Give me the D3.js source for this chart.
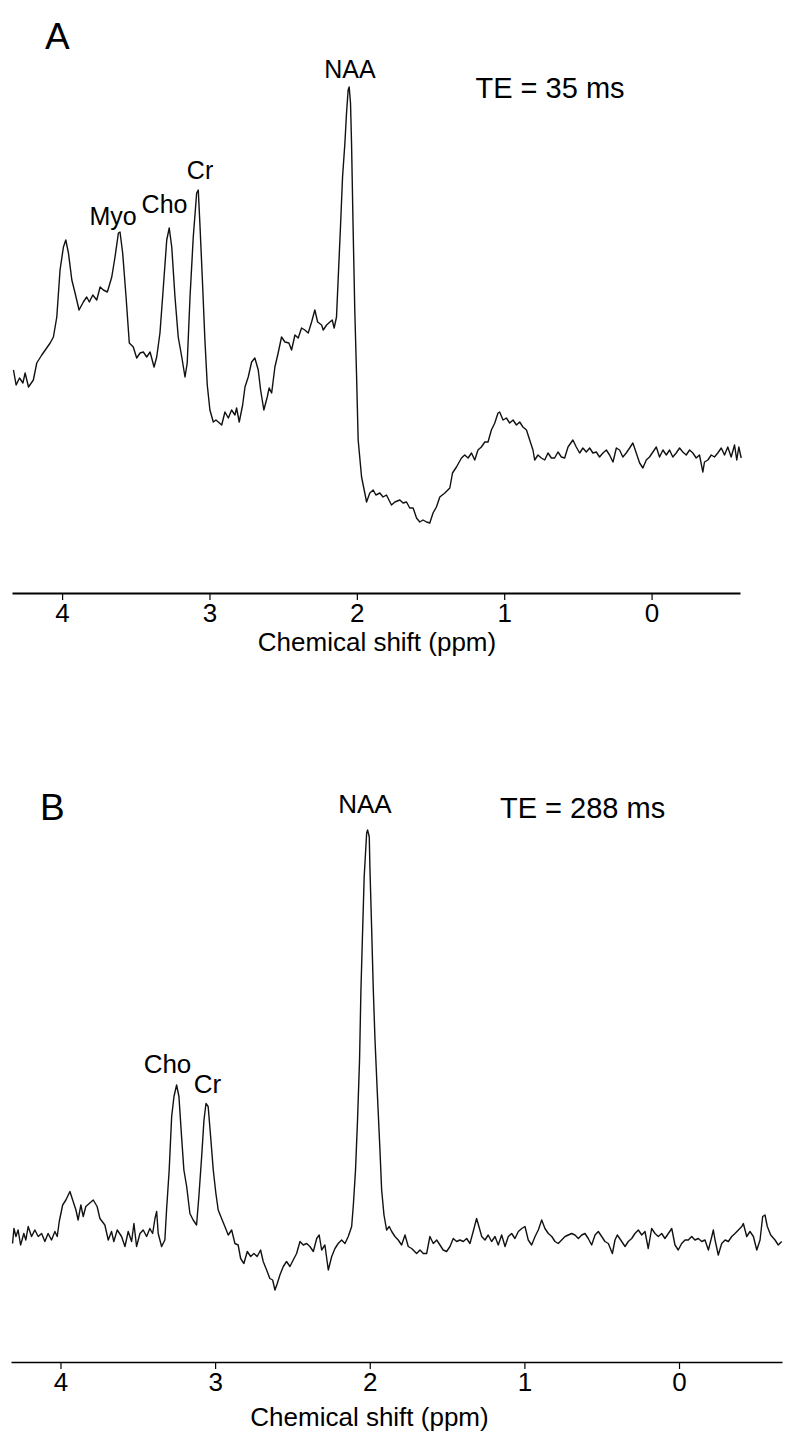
<!DOCTYPE html>
<html>
<head>
<meta charset="utf-8">
<script src="https://cdn.jsdelivr.net/npm/d3@7"></script>
<style>
  body { margin: 0; background: #fff; }
  text { font-family: "Liberation Sans", Arial, sans-serif; fill: #000; }
</style>
</head>
<body>
<script>
// spectrum A, TE = 35 ms : chemical shift (ppm) and signal (a.u.)
const ppmA = [4.330,4.312,4.289,4.266,4.251,4.228,4.195,4.172,4.138,4.081,4.059,4.036,4.014,3.991,3.975,3.957,3.934,3.912,3.885,3.856,
  3.833,3.815,3.792,3.765,3.742,3.720,3.693,3.663,3.641,3.618,3.607,3.589,3.566,3.544,3.517,3.494,3.471,3.449,3.426,3.403,
  3.376,3.358,3.336,3.313,3.290,3.273,3.256,3.234,3.212,3.188,3.166,3.151,3.132,3.110,3.087,3.076,3.064,3.046,3.031,3.015,
  2.997,2.974,2.956,2.917,2.895,2.872,2.850,2.827,2.816,2.798,2.775,2.759,2.737,2.714,2.692,2.669,2.653,2.631,2.608,2.595,
  2.578,2.556,2.534,2.511,2.488,2.461,2.443,2.420,2.398,2.375,2.353,2.330,2.307,2.285,2.266,2.239,2.228,2.205,2.183,2.167,
  2.154,2.138,2.127,2.111,2.097,2.081,2.070,2.059,2.052,2.043,2.036,2.025,2.014,2.002,1.991,1.968,1.946,1.934,1.912,1.889,
  1.871,1.844,1.822,1.799,1.765,1.742,1.708,1.686,1.663,1.641,1.618,1.595,1.573,1.551,1.527,1.505,1.483,1.460,1.437,1.403,
  1.369,1.351,1.324,1.290,1.268,1.245,1.222,1.200,1.178,1.155,1.132,1.110,1.087,1.064,1.042,1.031,1.008,0.985,0.963,0.940,
  0.917,0.895,0.873,0.849,0.827,0.805,0.793,0.771,0.748,0.725,0.703,0.680,0.658,0.635,0.612,0.590,0.567,0.534,0.511,0.488,
  0.466,0.443,0.420,0.398,0.375,0.353,0.330,0.307,0.285,0.262,0.239,0.217,0.195,0.172,0.149,0.127,0.104,0.081,0.059,0.036,
  0.014,-0.009,-0.032,-0.054,-0.077,-0.100,-0.122,-0.144,-0.167,-0.190,-0.212,-0.235,-0.258,-0.280,-0.303,-0.325,-0.348,-0.359,-0.382,-0.405,
  -0.427,-0.449,-0.473,-0.495,-0.517,-0.540,-0.563,-0.578,-0.592,-0.608];
const intA = [44.6,41.6,43.0,42.0,44.0,41.2,42.6,46.0,47.6,50.0,51.2,55.2,64.6,69.2,70.6,68.0,62.6,60.0,56.6,58.2,
  59.2,58.2,59.6,58.6,61.2,60.6,60.2,63.2,67.2,72.0,72.2,68.0,59.2,50.0,49.2,47.0,48.0,48.2,47.2,48.2,
  45.2,47.2,52.0,61.2,70.6,73.0,69.2,59.2,51.2,47.2,43.2,46.0,59.2,71.2,80.0,80.6,73.2,61.2,50.6,41.6,
  36.6,34.2,34.6,33.6,36.2,35.0,36.6,35.6,37.0,34.2,37.6,41.2,43.2,46.2,47.0,44.6,40.6,36.6,39.2,41.0,
  40.0,45.2,48.0,51.2,50.2,50.0,48.6,51.6,51.0,53.0,52.6,52.0,54.2,56.6,54.2,53.6,52.6,53.6,54.2,54.6,
  53.0,55.2,62.6,73.2,83.2,90.0,96.0,100.6,101.2,98.0,90.0,72.6,56.6,43.6,30.6,23.2,20.0,18.2,20.0,20.6,
  19.6,20.0,19.2,19.6,17.6,18.2,18.6,18.0,18.2,17.0,17.0,15.0,14.2,14.6,14.2,14.0,16.0,17.2,19.2,20.0,
  21.0,24.0,25.2,27.0,27.6,27.0,28.0,26.6,28.6,29.2,30.2,30.2,32.6,34.0,36.0,36.2,34.6,35.0,34.0,34.6,
  33.6,34.2,33.2,32.6,30.6,28.6,26.6,27.6,27.0,26.6,28.0,27.0,27.0,28.2,27.2,27.0,29.2,30.6,29.2,28.0,
  29.0,28.2,29.0,28.0,28.2,27.2,28.0,28.6,27.6,26.2,29.0,28.6,27.2,28.0,29.0,30.0,28.0,26.0,25.0,26.6,
  27.2,28.2,29.2,27.2,28.6,27.6,28.6,27.2,28.0,29.0,28.2,27.6,28.6,28.0,27.0,27.6,24.2,26.2,26.6,27.6,
  27.2,28.0,29.0,27.6,29.2,27.2,29.6,26.6,29.2,27.0];

// spectrum B, TE = 288 ms
const ppmB = [4.310,4.301,4.288,4.274,4.258,4.237,4.224,4.209,4.187,4.166,4.144,4.122,4.101,4.080,4.058,4.036,4.021,4.008,3.986,3.965,
  3.939,3.918,3.900,3.886,3.868,3.853,3.836,3.814,3.788,3.763,3.745,3.713,3.691,3.670,3.655,3.633,3.605,3.583,3.562,3.540,
  3.525,3.508,3.486,3.465,3.443,3.422,3.404,3.389,3.378,3.368,3.346,3.325,3.314,3.297,3.281,3.266,3.249,3.234,3.217,3.202,
  3.184,3.163,3.142,3.120,3.105,3.087,3.072,3.059,3.045,3.029,3.012,2.995,2.980,2.958,2.937,2.915,2.893,2.872,2.851,2.835,
  2.814,2.792,2.770,2.749,2.728,2.706,2.689,2.667,2.646,2.628,2.613,2.598,2.581,2.559,2.538,2.516,2.495,2.473,2.451,2.430,
  2.408,2.387,2.365,2.343,2.327,2.311,2.290,2.268,2.246,2.225,2.204,2.182,2.160,2.139,2.117,2.106,2.092,2.079,2.066,2.057,
  2.046,2.036,2.020,2.014,2.003,1.999,1.988,1.977,1.966,1.951,1.934,1.923,1.908,1.891,1.874,1.858,1.837,1.816,1.794,1.772,
  1.751,1.729,1.697,1.675,1.654,1.632,1.611,1.589,1.567,1.546,1.525,1.503,1.481,1.460,1.438,1.417,1.395,1.373,1.352,1.331,
  1.309,1.294,1.276,1.255,1.234,1.212,1.190,1.169,1.147,1.125,1.104,1.082,1.061,1.039,1.017,0.996,0.975,0.953,0.931,0.910,
  0.888,0.867,0.845,0.823,0.802,0.781,0.759,0.737,0.716,0.694,0.673,0.651,0.629,0.608,0.587,0.565,0.543,0.522,0.500,0.479,
  0.457,0.431,0.414,0.399,0.377,0.349,0.328,0.306,0.285,0.263,0.241,0.220,0.199,0.177,0.155,0.134,0.112,0.091,0.069,0.047,
  0.026,0.005,-0.017,-0.039,-0.060,-0.082,-0.103,-0.125,-0.147,-0.168,-0.190,-0.212,-0.222,-0.233,-0.254,-0.276,-0.298,-0.319,-0.341,-0.362,
  -0.384,-0.406,-0.416,-0.438,-0.459,-0.481,-0.503,-0.524,-0.541,-0.556,-0.571,-0.593,-0.621,-0.642,-0.664];
const intB = [23.7,26.7,25.1,26.4,23.4,25.7,24.4,27.1,25.1,26.4,25.1,25.7,24.1,25.7,24.4,26.1,25.1,28.1,31.4,32.4,
  34.1,32.1,30.4,28.4,31.4,29.1,31.1,31.7,32.4,31.1,28.7,27.4,24.4,26.1,24.1,26.4,25.1,23.1,26.1,24.1,
  27.7,23.1,25.7,26.4,25.1,26.7,25.7,28.7,30.1,25.7,23.1,24.4,30.4,38.4,49.1,53.1,55.4,53.1,45.1,38.4,
  35.1,29.7,28.4,27.4,33.1,41.1,48.4,51.7,51.1,45.1,38.4,33.7,30.4,28.7,27.1,25.4,26.4,23.7,23.4,20.7,
  19.7,22.1,21.1,21.7,21.1,22.4,20.1,18.4,16.7,16.4,14.4,15.7,17.4,19.1,20.1,19.1,20.4,21.7,24.1,23.4,
  23.7,23.1,22.1,24.7,25.4,22.4,23.4,18.4,21.1,22.7,23.7,24.4,23.7,25.1,27.1,31.4,38.4,48.4,60.4,74.4,
  86.4,97.0,105.8,106.4,105.0,99.0,87.0,74.4,64.4,53.8,42.4,34.4,29.4,26.4,27.1,26.1,25.1,24.4,23.4,25.4,
  23.1,22.7,21.7,22.4,21.7,21.7,25.1,23.7,24.4,23.4,22.4,22.1,23.1,24.7,24.1,24.4,24.1,24.7,23.7,26.1,
  28.7,27.1,25.1,24.4,25.4,24.1,25.1,23.4,25.4,23.1,25.1,25.7,24.7,26.1,26.7,27.1,24.4,23.4,25.1,26.4,
  28.4,26.7,25.7,25.1,24.1,23.7,24.4,25.1,25.4,25.7,25.4,24.7,25.4,25.7,24.7,23.4,25.4,26.1,25.1,24.1,
  23.7,21.7,24.4,25.4,24.4,23.1,24.1,24.7,25.7,26.4,25.4,26.1,22.7,26.7,25.7,25.1,25.7,24.7,25.7,26.7,
  23.4,22.4,23.7,24.4,24.4,25.1,24.4,24.7,24.1,24.4,22.4,25.1,26.4,24.4,21.4,23.7,24.4,24.1,25.1,25.7,
  26.4,27.1,27.7,25.1,26.1,25.1,22.4,24.4,29.1,29.4,27.1,25.4,24.4,23.4,24.1];

const ticks = [4, 3, 2, 1, 0];
const axisTitle = "Chemical shift (ppm)";

// peak labels: [text, ppm, signal at baseline of text]
const labelsA = [["NAA", 2.047, 103.0], ["Cr", 3.064, 82.8], ["Cho", 3.305, 76.0], ["Myo", 3.654, 73.6]];
const labelsB = [["NAA", 2.031, 109.8], ["Cho", 3.308, 57.8], ["Cr", 3.050, 53.8]];

const svg = d3.select("body").append("svg")
  .attr("width", 796).attr("height", 1451);

function panel(opt) {
  const x = d3.scaleLinear().domain(opt.xDomain).range(opt.xRange);
  const y = d3.scaleLinear().domain([0, 100]).range(opt.yRange);
  const g = svg.append("g");

  const pts = opt.ppm.map((p, i) => [p, opt.val[i]]);
  g.append("path")
    .attr("d", d3.line().x(d => x(d[0])).y(d => y(d[1]))(pts))
    .attr("fill", "none").attr("stroke", "#111")
    .attr("stroke-width", 1.4).attr("stroke-linejoin", "round");

  const ax = g.append("g")
    .attr("transform", "translate(0," + opt.yRange[0] + ")")
    .call(d3.axisBottom(x).tickValues(ticks).tickFormat(d3.format("d"))
      .tickSize(7).tickSizeOuter(0).tickPadding(4));
  ax.select(".domain").attr("stroke", "#000").attr("stroke-width", opt.axisW);
  ax.selectAll(".tick line").attr("stroke", "#000").attr("stroke-width", 1.2);
  ax.selectAll(".tick text").attr("font-size", 26)
    .attr("font-family", "Liberation Sans, Arial, sans-serif").attr("fill", "#000");

  g.append("text").attr("x", (opt.xRange[0] + opt.xRange[1]) / 2 + opt.titleDx)
    .attr("y", opt.yRange[0] + opt.titleDy)
    .attr("text-anchor", "middle").attr("font-size", 26).text(axisTitle);

  g.selectAll(".peak").data(opt.labels).enter().append("text")
    .attr("x", d => x(d[1])).attr("y", d => y(d[2]))
    .attr("text-anchor", "middle").attr("font-size", opt.labelSize).text(d => d[0]);

  g.append("text").attr("x", x(opt.te[1])).attr("y", y(opt.te[2]))
    .attr("font-size", 29).text(opt.te[0]);

  g.append("text").attr("x", opt.letter[1]).attr("y", opt.letter[2])
    .attr("font-size", 37).text(opt.letter[0]);
}

panel({
  ppm: ppmA, val: intA, xDomain: [4.34, -0.60], xRange: [12, 740], yRange: [593, 93],
  axisW: 2, titleDx: 1, titleDy: 58, labels: labelsA, labelSize: 25,
  te: ["TE = 35 ms", 1.195, 99], letter: ["A", 45, 49]
});

panel({
  ppm: ppmB, val: intB, xDomain: [4.32, -0.666], xRange: [11, 782], yRange: [1362, 862],
  axisW: 1.5, titleDx: -27, titleDy: 64, labels: labelsB, labelSize: 26,
  te: ["TE = 288 ms", 1.158, 108.8], letter: ["B", 40, 820]
});
</script>
</body>
</html>
